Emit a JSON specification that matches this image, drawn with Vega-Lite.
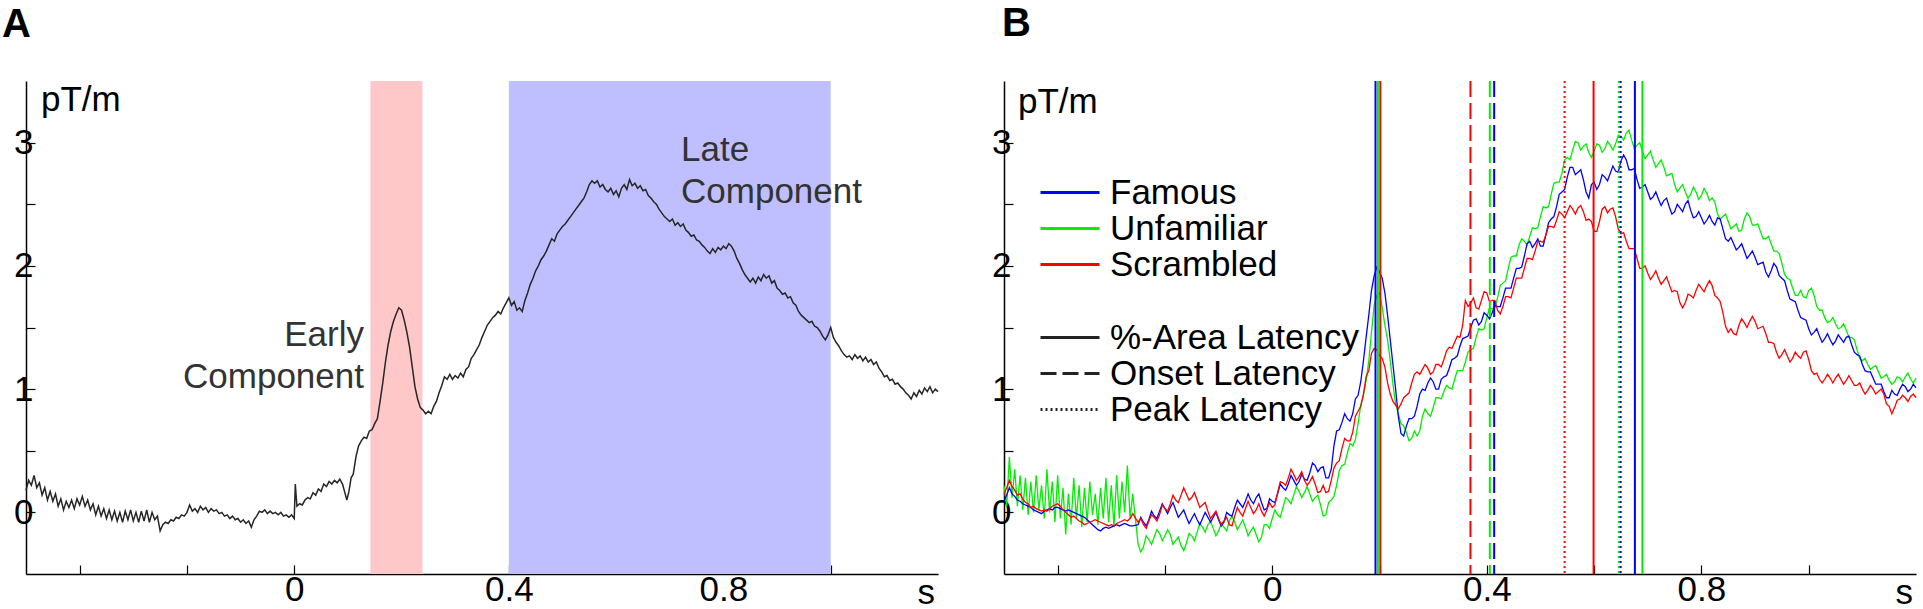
{
  "$schema": "https://vega.github.io/schema/vega-lite/v6.json",
  "description": "MEG gradiometer response: A) grand average with early and late component windows, B) three conditions with latency markers",
  "padding": {"left": 2, "top": 4, "right": 0, "bottom": 0},
  "spacing": 50,
  "hconcat": [
    {
      "width": 912,
      "height": 493,
      "title": {"text": "A", "anchor": "start", "frame": "group", "dx": -24, "offset": 36, "fontSize": 40, "fontWeight": "bold", "color": "#000"},
      "layer": [
        {
          "data": {"values": [{"a": 0.142, "b": 0.239}]},
          "mark": {"type": "rect", "color": "#FFC8C8"},
          "encoding": {"x": {"field": "a", "type": "quantitative"}, "x2": {"field": "b"}}
        },
        {
          "data": {"values": [{"a": 0.4, "b": 1.0}]},
          "mark": {"type": "rect", "color": "#BFBFFF"},
          "encoding": {"x": {"field": "a", "type": "quantitative"}, "x2": {"field": "b"}}
        },
        {
          "mark": {"type": "rule", "color": "#000", "strokeWidth": 1, "strokeDash": [2, 2]},
          "encoding": {"y": {"datum": 0, "type": "quantitative"}}
        },
        {
          "data": {"values": [
            {"t": -0.500, "v": 0.18}, {"t": -0.495, "v": 0.26}, {"t": -0.490, "v": 0.22}, {"t": -0.485, "v": 0.30}, {"t": -0.480, "v": 0.20},
            {"t": -0.475, "v": 0.24}, {"t": -0.470, "v": 0.14}, {"t": -0.465, "v": 0.20}, {"t": -0.460, "v": 0.10}, {"t": -0.455, "v": 0.17},
            {"t": -0.450, "v": 0.09}, {"t": -0.445, "v": 0.15}, {"t": -0.440, "v": 0.05}, {"t": -0.435, "v": 0.11}, {"t": -0.430, "v": 0.02},
            {"t": -0.425, "v": 0.09}, {"t": -0.420, "v": 0.04}, {"t": -0.415, "v": 0.10}, {"t": -0.410, "v": 0.03}, {"t": -0.405, "v": 0.11},
            {"t": -0.400, "v": 0.06}, {"t": -0.395, "v": 0.13}, {"t": -0.390, "v": 0.05}, {"t": -0.385, "v": 0.10}, {"t": -0.380, "v": 0.02},
            {"t": -0.375, "v": 0.07}, {"t": -0.370, "v": -0.02}, {"t": -0.365, "v": 0.05}, {"t": -0.360, "v": -0.03}, {"t": -0.355, "v": 0.03},
            {"t": -0.350, "v": -0.05}, {"t": -0.345, "v": 0.02}, {"t": -0.340, "v": -0.06}, {"t": -0.335, "v": 0.01}, {"t": -0.330, "v": -0.07},
            {"t": -0.325, "v": 0.00}, {"t": -0.320, "v": -0.08}, {"t": -0.315, "v": 0.01}, {"t": -0.310, "v": -0.06}, {"t": -0.305, "v": 0.02},
            {"t": -0.300, "v": -0.07}, {"t": -0.295, "v": 0.00}, {"t": -0.290, "v": -0.08}, {"t": -0.285, "v": 0.01}, {"t": -0.280, "v": -0.07},
            {"t": -0.275, "v": 0.02}, {"t": -0.270, "v": -0.08}, {"t": -0.265, "v": 0.00}, {"t": -0.260, "v": -0.06}, {"t": -0.255, "v": -0.03},
            {"t": -0.250, "v": -0.15}, {"t": -0.245, "v": -0.10}, {"t": -0.240, "v": -0.08}, {"t": -0.235, "v": -0.09}, {"t": -0.230, "v": -0.06},
            {"t": -0.225, "v": -0.07}, {"t": -0.220, "v": -0.04}, {"t": -0.215, "v": -0.05}, {"t": -0.210, "v": -0.02}, {"t": -0.205, "v": -0.03},
            {"t": -0.200, "v": 0.00}, {"t": -0.195, "v": 0.06}, {"t": -0.190, "v": 0.01}, {"t": -0.185, "v": 0.03}, {"t": -0.180, "v": 0.00},
            {"t": -0.175, "v": 0.05}, {"t": -0.170, "v": 0.02}, {"t": -0.165, "v": 0.04}, {"t": -0.160, "v": 0.00}, {"t": -0.155, "v": 0.03},
            {"t": -0.150, "v": 0.01}, {"t": -0.145, "v": 0.02}, {"t": -0.140, "v": -0.01}, {"t": -0.135, "v": 0.00}, {"t": -0.130, "v": -0.03},
            {"t": -0.125, "v": -0.02}, {"t": -0.120, "v": -0.05}, {"t": -0.115, "v": -0.03}, {"t": -0.110, "v": -0.06}, {"t": -0.105, "v": -0.05},
            {"t": -0.100, "v": -0.08}, {"t": -0.095, "v": -0.06}, {"t": -0.090, "v": -0.09}, {"t": -0.085, "v": -0.07}, {"t": -0.080, "v": -0.12},
            {"t": -0.075, "v": -0.06}, {"t": -0.070, "v": -0.03}, {"t": -0.065, "v": 0.01}, {"t": -0.060, "v": 0.00}, {"t": -0.055, "v": 0.02},
            {"t": -0.050, "v": -0.01}, {"t": -0.045, "v": 0.01}, {"t": -0.040, "v": -0.01}, {"t": -0.035, "v": 0.00}, {"t": -0.030, "v": -0.02},
            {"t": -0.025, "v": 0.00}, {"t": -0.020, "v": -0.03}, {"t": -0.015, "v": -0.02}, {"t": -0.010, "v": -0.04}, {"t": -0.005, "v": -0.02},
            {"t": 0.000, "v": -0.05}, {"t": 0.002, "v": 0.23}, {"t": 0.005, "v": 0.05}, {"t": 0.010, "v": 0.07}, {"t": 0.015, "v": 0.06},
            {"t": 0.020, "v": 0.10}, {"t": 0.025, "v": 0.12}, {"t": 0.030, "v": 0.11}, {"t": 0.035, "v": 0.16}, {"t": 0.040, "v": 0.14},
            {"t": 0.045, "v": 0.19}, {"t": 0.050, "v": 0.17}, {"t": 0.055, "v": 0.23}, {"t": 0.060, "v": 0.21}, {"t": 0.065, "v": 0.25},
            {"t": 0.070, "v": 0.23}, {"t": 0.075, "v": 0.26}, {"t": 0.080, "v": 0.24}, {"t": 0.085, "v": 0.27}, {"t": 0.090, "v": 0.23},
            {"t": 0.095, "v": 0.15}, {"t": 0.098, "v": 0.10}, {"t": 0.102, "v": 0.17}, {"t": 0.106, "v": 0.28}, {"t": 0.110, "v": 0.31},
            {"t": 0.115, "v": 0.45}, {"t": 0.120, "v": 0.54}, {"t": 0.125, "v": 0.58}, {"t": 0.130, "v": 0.61}, {"t": 0.135, "v": 0.60},
            {"t": 0.140, "v": 0.66}, {"t": 0.145, "v": 0.67}, {"t": 0.150, "v": 0.72}, {"t": 0.155, "v": 0.76}, {"t": 0.160, "v": 0.90},
            {"t": 0.165, "v": 1.05}, {"t": 0.170, "v": 1.22}, {"t": 0.175, "v": 1.36}, {"t": 0.180, "v": 1.47}, {"t": 0.185, "v": 1.55},
            {"t": 0.190, "v": 1.61}, {"t": 0.195, "v": 1.66}, {"t": 0.200, "v": 1.64}, {"t": 0.205, "v": 1.56}, {"t": 0.210, "v": 1.46},
            {"t": 0.215, "v": 1.34}, {"t": 0.220, "v": 1.18}, {"t": 0.225, "v": 1.02}, {"t": 0.230, "v": 0.92}, {"t": 0.235, "v": 0.85},
            {"t": 0.240, "v": 0.83}, {"t": 0.245, "v": 0.80}, {"t": 0.250, "v": 0.82}, {"t": 0.255, "v": 0.80}, {"t": 0.260, "v": 0.86},
            {"t": 0.265, "v": 0.90}, {"t": 0.270, "v": 0.97}, {"t": 0.275, "v": 1.03}, {"t": 0.280, "v": 1.10}, {"t": 0.285, "v": 1.08},
            {"t": 0.290, "v": 1.12}, {"t": 0.295, "v": 1.08}, {"t": 0.300, "v": 1.11}, {"t": 0.305, "v": 1.09}, {"t": 0.310, "v": 1.13},
            {"t": 0.315, "v": 1.10}, {"t": 0.320, "v": 1.16}, {"t": 0.325, "v": 1.18}, {"t": 0.330, "v": 1.25}, {"t": 0.335, "v": 1.28},
            {"t": 0.340, "v": 1.32}, {"t": 0.345, "v": 1.36}, {"t": 0.350, "v": 1.42}, {"t": 0.355, "v": 1.47}, {"t": 0.360, "v": 1.52},
            {"t": 0.365, "v": 1.55}, {"t": 0.370, "v": 1.58}, {"t": 0.375, "v": 1.60}, {"t": 0.380, "v": 1.63}, {"t": 0.385, "v": 1.61},
            {"t": 0.390, "v": 1.66}, {"t": 0.395, "v": 1.70}, {"t": 0.400, "v": 1.74}, {"t": 0.405, "v": 1.68}, {"t": 0.410, "v": 1.71},
            {"t": 0.415, "v": 1.64}, {"t": 0.420, "v": 1.66}, {"t": 0.425, "v": 1.63}, {"t": 0.430, "v": 1.72}, {"t": 0.435, "v": 1.78},
            {"t": 0.440, "v": 1.85}, {"t": 0.445, "v": 1.90}, {"t": 0.450, "v": 1.96}, {"t": 0.455, "v": 2.00}, {"t": 0.460, "v": 2.05},
            {"t": 0.465, "v": 2.08}, {"t": 0.470, "v": 2.12}, {"t": 0.475, "v": 2.17}, {"t": 0.480, "v": 2.22}, {"t": 0.485, "v": 2.20},
            {"t": 0.490, "v": 2.26}, {"t": 0.495, "v": 2.29}, {"t": 0.500, "v": 2.32}, {"t": 0.505, "v": 2.34}, {"t": 0.510, "v": 2.37},
            {"t": 0.515, "v": 2.40}, {"t": 0.520, "v": 2.43}, {"t": 0.525, "v": 2.46}, {"t": 0.530, "v": 2.49}, {"t": 0.535, "v": 2.52},
            {"t": 0.540, "v": 2.55}, {"t": 0.545, "v": 2.60}, {"t": 0.550, "v": 2.66}, {"t": 0.555, "v": 2.69}, {"t": 0.560, "v": 2.67},
            {"t": 0.565, "v": 2.69}, {"t": 0.570, "v": 2.64}, {"t": 0.575, "v": 2.66}, {"t": 0.580, "v": 2.62}, {"t": 0.585, "v": 2.60},
            {"t": 0.590, "v": 2.63}, {"t": 0.595, "v": 2.58}, {"t": 0.600, "v": 2.61}, {"t": 0.605, "v": 2.56}, {"t": 0.610, "v": 2.63},
            {"t": 0.615, "v": 2.66}, {"t": 0.620, "v": 2.62}, {"t": 0.625, "v": 2.70}, {"t": 0.630, "v": 2.65}, {"t": 0.635, "v": 2.67},
            {"t": 0.640, "v": 2.63}, {"t": 0.645, "v": 2.65}, {"t": 0.650, "v": 2.61}, {"t": 0.655, "v": 2.62}, {"t": 0.660, "v": 2.57},
            {"t": 0.665, "v": 2.55}, {"t": 0.670, "v": 2.52}, {"t": 0.675, "v": 2.50}, {"t": 0.680, "v": 2.46}, {"t": 0.685, "v": 2.43},
            {"t": 0.690, "v": 2.40}, {"t": 0.695, "v": 2.38}, {"t": 0.700, "v": 2.36}, {"t": 0.705, "v": 2.38}, {"t": 0.710, "v": 2.33},
            {"t": 0.715, "v": 2.35}, {"t": 0.720, "v": 2.32}, {"t": 0.725, "v": 2.34}, {"t": 0.730, "v": 2.29}, {"t": 0.735, "v": 2.27},
            {"t": 0.740, "v": 2.24}, {"t": 0.745, "v": 2.25}, {"t": 0.750, "v": 2.21}, {"t": 0.755, "v": 2.20}, {"t": 0.760, "v": 2.17},
            {"t": 0.765, "v": 2.15}, {"t": 0.770, "v": 2.12}, {"t": 0.775, "v": 2.10}, {"t": 0.780, "v": 2.14}, {"t": 0.785, "v": 2.11},
            {"t": 0.790, "v": 2.15}, {"t": 0.795, "v": 2.13}, {"t": 0.800, "v": 2.16}, {"t": 0.805, "v": 2.14}, {"t": 0.810, "v": 2.18},
            {"t": 0.815, "v": 2.16}, {"t": 0.820, "v": 2.12}, {"t": 0.825, "v": 2.06}, {"t": 0.830, "v": 2.02}, {"t": 0.835, "v": 1.97},
            {"t": 0.840, "v": 1.93}, {"t": 0.845, "v": 1.90}, {"t": 0.850, "v": 1.87}, {"t": 0.855, "v": 1.90}, {"t": 0.860, "v": 1.86},
            {"t": 0.865, "v": 1.91}, {"t": 0.870, "v": 1.88}, {"t": 0.875, "v": 1.93}, {"t": 0.880, "v": 1.90}, {"t": 0.885, "v": 1.92},
            {"t": 0.890, "v": 1.86}, {"t": 0.895, "v": 1.88}, {"t": 0.900, "v": 1.82}, {"t": 0.905, "v": 1.80}, {"t": 0.910, "v": 1.77},
            {"t": 0.915, "v": 1.78}, {"t": 0.920, "v": 1.74}, {"t": 0.925, "v": 1.75}, {"t": 0.930, "v": 1.70}, {"t": 0.935, "v": 1.68},
            {"t": 0.940, "v": 1.63}, {"t": 0.945, "v": 1.60}, {"t": 0.950, "v": 1.58}, {"t": 0.955, "v": 1.56}, {"t": 0.960, "v": 1.54},
            {"t": 0.965, "v": 1.55}, {"t": 0.970, "v": 1.51}, {"t": 0.975, "v": 1.50}, {"t": 0.980, "v": 1.47}, {"t": 0.985, "v": 1.43},
            {"t": 0.990, "v": 1.40}, {"t": 0.995, "v": 1.44}, {"t": 1.000, "v": 1.50}, {"t": 1.005, "v": 1.42}, {"t": 1.010, "v": 1.38},
            {"t": 1.015, "v": 1.35}, {"t": 1.020, "v": 1.31}, {"t": 1.025, "v": 1.28}, {"t": 1.030, "v": 1.26}, {"t": 1.035, "v": 1.27},
            {"t": 1.040, "v": 1.24}, {"t": 1.045, "v": 1.28}, {"t": 1.050, "v": 1.25}, {"t": 1.055, "v": 1.27}, {"t": 1.060, "v": 1.23},
            {"t": 1.065, "v": 1.26}, {"t": 1.070, "v": 1.22}, {"t": 1.075, "v": 1.24}, {"t": 1.080, "v": 1.20}, {"t": 1.085, "v": 1.22},
            {"t": 1.090, "v": 1.17}, {"t": 1.095, "v": 1.14}, {"t": 1.100, "v": 1.10}, {"t": 1.105, "v": 1.11}, {"t": 1.110, "v": 1.07},
            {"t": 1.115, "v": 1.08}, {"t": 1.120, "v": 1.04}, {"t": 1.125, "v": 1.05}, {"t": 1.130, "v": 1.02}, {"t": 1.135, "v": 1.00},
            {"t": 1.140, "v": 0.97}, {"t": 1.145, "v": 0.95}, {"t": 1.150, "v": 0.92}, {"t": 1.155, "v": 0.97}, {"t": 1.160, "v": 0.94},
            {"t": 1.165, "v": 0.99}, {"t": 1.170, "v": 0.96}, {"t": 1.175, "v": 1.01}, {"t": 1.180, "v": 0.98}, {"t": 1.185, "v": 1.02},
            {"t": 1.190, "v": 0.97}, {"t": 1.195, "v": 1.00}, {"t": 1.200, "v": 0.98}
          ]},
          "mark": {"type": "line", "color": "#262626", "strokeWidth": 1.5},
          "encoding": {
            "x": {
              "field": "t", "type": "quantitative",
              "scale": {"domain": [-0.5, 1.2], "nice": false, "zero": false},
              "axis": {"values": [-0.4, -0.2, 0, 0.2, 0.4, 0.6, 0.8, 1.0], "format": ".1~f", "labelExpr": "indexof([0, 0.4, 0.8], datum.value) >= 0 ? datum.label : ''"}
            },
            "y": {
              "field": "v", "type": "quantitative",
              "scale": {"domain": [-0.5, 3.5], "nice": false, "zero": false},
              "axis": {"values": [0, 0.5, 1, 1.5, 2, 2.5, 3], "format": ".1~f", "labelExpr": "datum.value % 1 == 0 ? datum.label : ''"}
            }
          }
        },
        {
          "data": {"values": [{"x": 0.13, "y": 1.35, "label": "Early\nComponent"}]},
          "mark": {"type": "text", "align": "right", "baseline": "alphabetic", "lineBreak": "\n", "lineHeight": 42, "fontSize": 35, "color": "#333"},
          "encoding": {"x": {"field": "x", "type": "quantitative"}, "y": {"field": "y", "type": "quantitative"}, "text": {"field": "label"}}
        },
        {
          "data": {"values": [{"x": 0.721, "y": 2.85, "label": "Late\nComponent"}]},
          "mark": {"type": "text", "align": "left", "baseline": "alphabetic", "lineBreak": "\n", "lineHeight": 42, "fontSize": 35, "color": "#333"},
          "encoding": {"x": {"field": "x", "type": "quantitative"}, "y": {"field": "y", "type": "quantitative"}, "text": {"field": "label"}}
        },
        {
          "data": {"values": [{"x": -0.472, "y": 3.256, "label": "pT/m"}]},
          "mark": {"type": "text", "align": "left", "baseline": "alphabetic", "fontSize": 35, "color": "#000"},
          "encoding": {"x": {"field": "x", "type": "quantitative"}, "y": {"field": "y", "type": "quantitative"}, "text": {"field": "label"}}
        },
        {
          "data": {"values": [{"x": 1.2, "y": -0.5, "label": "s"}]},
          "mark": {"type": "text", "align": "right", "baseline": "alphabetic", "dx": -3, "dy": 30, "fontSize": 35, "color": "#000"},
          "encoding": {"x": {"field": "x", "type": "quantitative"}, "y": {"field": "y", "type": "quantitative"}, "text": {"field": "label"}}
        }
      ]
    },
    {
      "width": 912,
      "height": 493,
      "title": {"text": "B", "anchor": "start", "frame": "group", "dx": -2, "offset": 36, "fontSize": 40, "fontWeight": "bold", "color": "#000"},
      "layer": [
        {
          "mark": {"type": "rule", "color": "#000", "strokeWidth": 1, "strokeDash": [2, 2]},
          "encoding": {"y": {"datum": 0, "type": "quantitative"}}
        },
        {
          "data": {"name": "traces"},
          "layer": [
            {
              "mark": {"type": "line", "strokeWidth": 1.3},
              "encoding": {
                "x": {
                  "field": "t", "type": "quantitative",
                  "scale": {"domain": [-0.5, 1.2], "nice": false, "zero": false},
                  "axis": {"values": [-0.4, -0.2, 0, 0.2, 0.4, 0.6, 0.8, 1.0], "format": ".1~f", "labelExpr": "indexof([0, 0.4, 0.8], datum.value) >= 0 ? datum.label : ''"}
                },
                "y": {
                  "field": "unfamiliar", "type": "quantitative",
                  "scale": {"domain": [-0.5, 3.5], "nice": false, "zero": false},
                  "axis": {"values": [0, 0.5, 1, 1.5, 2, 2.5, 3], "format": ".1~f", "labelExpr": "datum.value % 1 == 0 ? datum.label : ''"}
                },
                "color": {
                  "datum": "Unfamiliar",
                  "title": null,
                  "scale": {"domain": ["Famous", "Unfamiliar", "Scrambled"], "range": ["#0000FF", "#00EE00", "#FF0000"]},
                  "legend": {"title": null, "orient": "none", "legendX": 1013, "legendY": 94}
                }
              }
            },
            {
              "mark": {"type": "line", "strokeWidth": 1.3},
              "encoding": {
                "x": {"field": "t", "type": "quantitative"},
                "y": {"field": "famous", "type": "quantitative"},
                "color": {"datum": "Famous", "title": null}
              }
            },
            {
              "mark": {"type": "line", "strokeWidth": 1.3},
              "encoding": {
                "x": {"field": "t", "type": "quantitative"},
                "y": {"field": "scrambled", "type": "quantitative"},
                "color": {"datum": "Scrambled", "title": null}
              }
            }
          ]
        },
        {
          "data": {"values": [
            {"cond": "Famous", "kind": "%-Area Latency", "t": 0.1925},
            {"cond": "Unfamiliar", "kind": "%-Area Latency", "t": 0.197},
            {"cond": "Scrambled", "kind": "%-Area Latency", "t": 0.2015},
            {"cond": "Scrambled", "kind": "Onset Latency", "t": 0.3695},
            {"cond": "Unfamiliar", "kind": "Onset Latency", "t": 0.4056},
            {"cond": "Famous", "kind": "Onset Latency", "t": 0.4137},
            {"cond": "Scrambled", "kind": "Peak Latency", "t": 0.545},
            {"cond": "Scrambled", "kind": "%-Area Latency", "t": 0.599},
            {"cond": "Unfamiliar", "kind": "Peak Latency", "t": 0.646},
            {"cond": "Famous", "kind": "Peak Latency", "t": 0.6495},
            {"cond": "Famous", "kind": "%-Area Latency", "t": 0.676},
            {"cond": "Unfamiliar", "kind": "%-Area Latency", "t": 0.690}
          ]},
          "mark": {"type": "rule", "strokeWidth": 2},
          "encoding": {
            "x": {"field": "t", "type": "quantitative"},
            "color": {"field": "cond", "type": "nominal", "title": null},
            "strokeDash": {
              "field": "kind", "type": "nominal", "title": null,
              "scale": {"domain": ["%-Area Latency", "Onset Latency", "Peak Latency"], "range": [[1, 0], [16, 6], [2, 3]]},
              "legend": {"title": null, "orient": "none", "legendX": 1013, "legendY": 239, "symbolStrokeColor": "#222"}
            }
          }
        },
        {
          "data": {"values": [{"x": -0.474, "y": 3.24, "label": "pT/m"}]},
          "mark": {"type": "text", "align": "left", "baseline": "alphabetic", "fontSize": 35, "color": "#000"},
          "encoding": {"x": {"field": "x", "type": "quantitative"}, "y": {"field": "y", "type": "quantitative"}, "text": {"field": "label"}}
        },
        {
          "data": {"values": [{"x": 1.2, "y": -0.5, "label": "s"}]},
          "mark": {"type": "text", "align": "right", "baseline": "alphabetic", "dx": -3, "dy": 30, "fontSize": 35, "color": "#000"},
          "encoding": {"x": {"field": "x", "type": "quantitative"}, "y": {"field": "y", "type": "quantitative"}, "text": {"field": "label"}}
        }
      ]
    }
  ],
  "datasets": {
    "traces": [
      {"t": -0.500, "famous": 0.09, "unfamiliar": 0.22, "scrambled": 0.15},
      {"t": -0.495, "famous": 0.14, "unfamiliar": 0.05, "scrambled": 0.20},
      {"t": -0.490, "famous": 0.20, "unfamiliar": 0.45, "scrambled": 0.26},
      {"t": -0.485, "famous": 0.15, "unfamiliar": 0.12, "scrambled": 0.21},
      {"t": -0.480, "famous": 0.13, "unfamiliar": 0.35, "scrambled": 0.18},
      {"t": -0.475, "famous": 0.10, "unfamiliar": 0.05, "scrambled": 0.14},
      {"t": -0.470, "famous": 0.09, "unfamiliar": 0.30, "scrambled": 0.15},
      {"t": -0.465, "famous": 0.07, "unfamiliar": 0.02, "scrambled": 0.11},
      {"t": -0.460, "famous": 0.06, "unfamiliar": 0.28, "scrambled": 0.08},
      {"t": -0.455, "famous": 0.05, "unfamiliar": -0.02, "scrambled": 0.07},
      {"t": -0.450, "famous": 0.04, "unfamiliar": 0.25, "scrambled": 0.04},
      {"t": -0.445, "famous": 0.02, "unfamiliar": 0.00, "scrambled": 0.05},
      {"t": -0.440, "famous": 0.01, "unfamiliar": 0.30, "scrambled": 0.03},
      {"t": -0.435, "famous": 0.00, "unfamiliar": 0.02, "scrambled": 0.02},
      {"t": -0.430, "famous": -0.01, "unfamiliar": 0.22, "scrambled": 0.01},
      {"t": -0.425, "famous": 0.01, "unfamiliar": -0.05, "scrambled": 0.02},
      {"t": -0.420, "famous": 0.02, "unfamiliar": 0.35, "scrambled": 0.01},
      {"t": -0.415, "famous": 0.03, "unfamiliar": 0.00, "scrambled": 0.03},
      {"t": -0.410, "famous": 0.02, "unfamiliar": 0.25, "scrambled": 0.05},
      {"t": -0.405, "famous": 0.04, "unfamiliar": -0.08, "scrambled": 0.06},
      {"t": -0.400, "famous": 0.04, "unfamiliar": 0.30, "scrambled": 0.07},
      {"t": -0.395, "famous": 0.03, "unfamiliar": -0.05, "scrambled": 0.05},
      {"t": -0.390, "famous": 0.02, "unfamiliar": 0.20, "scrambled": 0.02},
      {"t": -0.385, "famous": 0.01, "unfamiliar": -0.18, "scrambled": 0.00},
      {"t": -0.380, "famous": 0.02, "unfamiliar": 0.15, "scrambled": -0.02},
      {"t": -0.375, "famous": 0.01, "unfamiliar": -0.10, "scrambled": -0.04},
      {"t": -0.370, "famous": 0.00, "unfamiliar": 0.28, "scrambled": -0.03},
      {"t": -0.365, "famous": -0.01, "unfamiliar": -0.05, "scrambled": -0.05},
      {"t": -0.360, "famous": -0.02, "unfamiliar": 0.22, "scrambled": -0.07},
      {"t": -0.355, "famous": -0.03, "unfamiliar": -0.12, "scrambled": -0.08},
      {"t": -0.350, "famous": -0.04, "unfamiliar": 0.20, "scrambled": -0.10},
      {"t": -0.345, "famous": -0.06, "unfamiliar": -0.08, "scrambled": -0.09},
      {"t": -0.340, "famous": -0.08, "unfamiliar": 0.25, "scrambled": -0.08},
      {"t": -0.335, "famous": -0.10, "unfamiliar": -0.02, "scrambled": -0.07},
      {"t": -0.330, "famous": -0.12, "unfamiliar": 0.15, "scrambled": -0.06},
      {"t": -0.325, "famous": -0.14, "unfamiliar": -0.10, "scrambled": -0.07},
      {"t": -0.320, "famous": -0.15, "unfamiliar": 0.20, "scrambled": -0.08},
      {"t": -0.315, "famous": -0.13, "unfamiliar": -0.05, "scrambled": -0.09},
      {"t": -0.310, "famous": -0.12, "unfamiliar": 0.28, "scrambled": -0.10},
      {"t": -0.305, "famous": -0.13, "unfamiliar": -0.08, "scrambled": -0.11},
      {"t": -0.300, "famous": -0.12, "unfamiliar": 0.22, "scrambled": -0.10},
      {"t": -0.295, "famous": -0.11, "unfamiliar": -0.12, "scrambled": -0.11},
      {"t": -0.290, "famous": -0.10, "unfamiliar": 0.30, "scrambled": -0.09},
      {"t": -0.285, "famous": -0.11, "unfamiliar": -0.05, "scrambled": -0.08},
      {"t": -0.280, "famous": -0.10, "unfamiliar": 0.25, "scrambled": -0.07},
      {"t": -0.275, "famous": -0.09, "unfamiliar": 0.00, "scrambled": -0.06},
      {"t": -0.270, "famous": -0.10, "unfamiliar": 0.38, "scrambled": -0.07},
      {"t": -0.265, "famous": -0.11, "unfamiliar": -0.05, "scrambled": -0.05},
      {"t": -0.260, "famous": -0.11, "unfamiliar": 0.15, "scrambled": -0.01},
      {"t": -0.25, "famous": -0.10, "unfamiliar": -0.26, "scrambled": -0.08},
      {"t": -0.24, "famous": -0.08, "unfamiliar": -0.28, "scrambled": -0.10},
      {"t": -0.23, "famous": -0.06, "unfamiliar": -0.22, "scrambled": -0.07},
      {"t": -0.22, "famous": -0.03, "unfamiliar": -0.20, "scrambled": -0.04},
      {"t": -0.21, "famous": 0.01, "unfamiliar": -0.17, "scrambled": -0.02},
      {"t": -0.20, "famous": 0.03, "unfamiliar": -0.19, "scrambled": 0.03},
      {"t": -0.19, "famous": 0.04, "unfamiliar": -0.18, "scrambled": 0.07},
      {"t": -0.18, "famous": 0.02, "unfamiliar": -0.23, "scrambled": 0.10},
      {"t": -0.17, "famous": -0.01, "unfamiliar": -0.27, "scrambled": 0.14},
      {"t": -0.16, "famous": -0.04, "unfamiliar": -0.25, "scrambled": 0.15},
      {"t": -0.15, "famous": -0.05, "unfamiliar": -0.19, "scrambled": 0.12},
      {"t": -0.14, "famous": -0.06, "unfamiliar": -0.16, "scrambled": 0.10},
      {"t": -0.13, "famous": -0.05, "unfamiliar": -0.12, "scrambled": 0.06},
      {"t": -0.12, "famous": -0.04, "unfamiliar": -0.10, "scrambled": 0.01},
      {"t": -0.11, "famous": -0.04, "unfamiliar": -0.13, "scrambled": -0.02},
      {"t": -0.10, "famous": -0.06, "unfamiliar": -0.15, "scrambled": -0.05},
      {"t": -0.09, "famous": -0.08, "unfamiliar": -0.12, "scrambled": -0.07},
      {"t": -0.08, "famous": -0.02, "unfamiliar": -0.07, "scrambled": -0.10},
      {"t": -0.07, "famous": 0.04, "unfamiliar": -0.08, "scrambled": -0.03},
      {"t": -0.06, "famous": 0.07, "unfamiliar": -0.10, "scrambled": 0.00},
      {"t": -0.05, "famous": 0.09, "unfamiliar": -0.12, "scrambled": 0.03},
      {"t": -0.04, "famous": 0.10, "unfamiliar": -0.15, "scrambled": 0.04},
      {"t": -0.03, "famous": 0.12, "unfamiliar": -0.18, "scrambled": 0.02},
      {"t": -0.02, "famous": 0.08, "unfamiliar": -0.20, "scrambled": 0.01},
      {"t": -0.01, "famous": 0.03, "unfamiliar": -0.10, "scrambled": 0.02},
      {"t": 0.00, "famous": 0.09, "unfamiliar": -0.05, "scrambled": 0.04},
      {"t": 0.01, "famous": 0.15, "unfamiliar": -0.02, "scrambled": 0.16},
      {"t": 0.02, "famous": 0.20, "unfamiliar": 0.04, "scrambled": 0.24},
      {"t": 0.03, "famous": 0.23, "unfamiliar": 0.10, "scrambled": 0.28},
      {"t": 0.04, "famous": 0.26, "unfamiliar": 0.14, "scrambled": 0.31},
      {"t": 0.05, "famous": 0.25, "unfamiliar": 0.17, "scrambled": 0.29},
      {"t": 0.06, "famous": 0.27, "unfamiliar": 0.16, "scrambled": 0.26},
      {"t": 0.07, "famous": 0.32, "unfamiliar": 0.15, "scrambled": 0.25},
      {"t": 0.08, "famous": 0.38, "unfamiliar": 0.12, "scrambled": 0.23},
      {"t": 0.09, "famous": 0.36, "unfamiliar": 0.06, "scrambled": 0.17},
      {"t": 0.10, "famous": 0.28, "unfamiliar": -0.02, "scrambled": 0.16},
      {"t": 0.11, "famous": 0.35, "unfamiliar": 0.10, "scrambled": 0.26},
      {"t": 0.12, "famous": 0.66, "unfamiliar": 0.22, "scrambled": 0.40},
      {"t": 0.13, "famous": 0.73, "unfamiliar": 0.38, "scrambled": 0.52},
      {"t": 0.14, "famous": 0.76, "unfamiliar": 0.48, "scrambled": 0.58},
      {"t": 0.15, "famous": 0.80, "unfamiliar": 0.54, "scrambled": 0.65},
      {"t": 0.16, "famous": 0.95, "unfamiliar": 0.72, "scrambled": 0.82},
      {"t": 0.17, "famous": 1.23, "unfamiliar": 0.95, "scrambled": 0.96},
      {"t": 0.18, "famous": 1.60, "unfamiliar": 1.23, "scrambled": 1.15},
      {"t": 0.19, "famous": 1.92, "unfamiliar": 1.68, "scrambled": 1.33},
      {"t": 0.20, "famous": 1.95, "unfamiliar": 1.78, "scrambled": 1.27},
      {"t": 0.21, "famous": 1.78, "unfamiliar": 1.52, "scrambled": 1.18},
      {"t": 0.22, "famous": 1.40, "unfamiliar": 1.23, "scrambled": 0.96},
      {"t": 0.23, "famous": 1.00, "unfamiliar": 0.88, "scrambled": 0.87},
      {"t": 0.24, "famous": 0.64, "unfamiliar": 0.72, "scrambled": 0.88},
      {"t": 0.25, "famous": 0.70, "unfamiliar": 0.65, "scrambled": 0.95},
      {"t": 0.26, "famous": 0.76, "unfamiliar": 0.60, "scrambled": 1.05},
      {"t": 0.27, "famous": 0.86, "unfamiliar": 0.62, "scrambled": 1.14},
      {"t": 0.28, "famous": 1.00, "unfamiliar": 0.78, "scrambled": 1.16},
      {"t": 0.29, "famous": 1.05, "unfamiliar": 0.80, "scrambled": 1.17},
      {"t": 0.30, "famous": 1.06, "unfamiliar": 0.85, "scrambled": 1.14},
      {"t": 0.31, "famous": 1.00, "unfamiliar": 0.93, "scrambled": 1.20},
      {"t": 0.32, "famous": 1.10, "unfamiliar": 0.98, "scrambled": 1.24},
      {"t": 0.33, "famous": 1.17, "unfamiliar": 1.01, "scrambled": 1.34},
      {"t": 0.34, "famous": 1.25, "unfamiliar": 1.08, "scrambled": 1.38},
      {"t": 0.35, "famous": 1.35, "unfamiliar": 1.15, "scrambled": 1.42},
      {"t": 0.36, "famous": 1.42, "unfamiliar": 1.22, "scrambled": 1.72},
      {"t": 0.37, "famous": 1.50, "unfamiliar": 1.32, "scrambled": 1.70},
      {"t": 0.38, "famous": 1.57, "unfamiliar": 1.42, "scrambled": 1.66},
      {"t": 0.39, "famous": 1.55, "unfamiliar": 1.48, "scrambled": 1.72},
      {"t": 0.40, "famous": 1.60, "unfamiliar": 1.58, "scrambled": 1.78},
      {"t": 0.41, "famous": 1.62, "unfamiliar": 1.65, "scrambled": 1.72},
      {"t": 0.42, "famous": 1.67, "unfamiliar": 1.74, "scrambled": 1.64},
      {"t": 0.43, "famous": 1.74, "unfamiliar": 1.86, "scrambled": 1.67},
      {"t": 0.44, "famous": 1.82, "unfamiliar": 1.98, "scrambled": 1.75},
      {"t": 0.45, "famous": 1.90, "unfamiliar": 2.08, "scrambled": 1.82},
      {"t": 0.46, "famous": 1.98, "unfamiliar": 2.17, "scrambled": 1.90},
      {"t": 0.47, "famous": 2.08, "unfamiliar": 2.20, "scrambled": 1.98},
      {"t": 0.48, "famous": 2.20, "unfamiliar": 2.24, "scrambled": 2.06},
      {"t": 0.49, "famous": 2.18, "unfamiliar": 2.30, "scrambled": 2.12},
      {"t": 0.50, "famous": 2.16, "unfamiliar": 2.40, "scrambled": 2.20},
      {"t": 0.51, "famous": 2.25, "unfamiliar": 2.47, "scrambled": 2.25},
      {"t": 0.52, "famous": 2.38, "unfamiliar": 2.58, "scrambled": 2.32},
      {"t": 0.53, "famous": 2.48, "unfamiliar": 2.68, "scrambled": 2.37},
      {"t": 0.54, "famous": 2.60, "unfamiliar": 2.75, "scrambled": 2.42},
      {"t": 0.55, "famous": 2.72, "unfamiliar": 2.88, "scrambled": 2.44},
      {"t": 0.56, "famous": 2.80, "unfamiliar": 2.94, "scrambled": 2.46},
      {"t": 0.57, "famous": 2.76, "unfamiliar": 3.00, "scrambled": 2.47},
      {"t": 0.58, "famous": 2.70, "unfamiliar": 2.97, "scrambled": 2.44},
      {"t": 0.59, "famous": 2.55, "unfamiliar": 2.92, "scrambled": 2.38},
      {"t": 0.60, "famous": 2.68, "unfamiliar": 2.93, "scrambled": 2.28},
      {"t": 0.61, "famous": 2.66, "unfamiliar": 2.98, "scrambled": 2.36},
      {"t": 0.62, "famous": 2.72, "unfamiliar": 2.95, "scrambled": 2.48},
      {"t": 0.63, "famous": 2.75, "unfamiliar": 2.98, "scrambled": 2.46},
      {"t": 0.64, "famous": 2.77, "unfamiliar": 2.99, "scrambled": 2.40},
      {"t": 0.65, "famous": 2.85, "unfamiliar": 3.05, "scrambled": 2.26},
      {"t": 0.66, "famous": 2.86, "unfamiliar": 3.08, "scrambled": 2.20},
      {"t": 0.67, "famous": 2.78, "unfamiliar": 3.02, "scrambled": 2.14},
      {"t": 0.68, "famous": 2.70, "unfamiliar": 2.98, "scrambled": 2.06},
      {"t": 0.69, "famous": 2.64, "unfamiliar": 2.93, "scrambled": 1.98},
      {"t": 0.70, "famous": 2.60, "unfamiliar": 2.90, "scrambled": 1.94},
      {"t": 0.71, "famous": 2.56, "unfamiliar": 2.86, "scrambled": 1.92},
      {"t": 0.72, "famous": 2.54, "unfamiliar": 2.83, "scrambled": 1.90},
      {"t": 0.73, "famous": 2.53, "unfamiliar": 2.80, "scrambled": 1.88},
      {"t": 0.74, "famous": 2.48, "unfamiliar": 2.74, "scrambled": 1.85},
      {"t": 0.75, "famous": 2.44, "unfamiliar": 2.66, "scrambled": 1.80},
      {"t": 0.76, "famous": 2.47, "unfamiliar": 2.63, "scrambled": 1.70},
      {"t": 0.77, "famous": 2.50, "unfamiliar": 2.60, "scrambled": 1.70},
      {"t": 0.78, "famous": 2.45, "unfamiliar": 2.58, "scrambled": 1.76},
      {"t": 0.79, "famous": 2.40, "unfamiliar": 2.60, "scrambled": 1.80},
      {"t": 0.80, "famous": 2.39, "unfamiliar": 2.57, "scrambled": 1.82},
      {"t": 0.81, "famous": 2.37, "unfamiliar": 2.59, "scrambled": 1.84},
      {"t": 0.82, "famous": 2.36, "unfamiliar": 2.55, "scrambled": 1.84},
      {"t": 0.83, "famous": 2.39, "unfamiliar": 2.42, "scrambled": 1.74},
      {"t": 0.84, "famous": 2.30, "unfamiliar": 2.40, "scrambled": 1.62},
      {"t": 0.85, "famous": 2.20, "unfamiliar": 2.36, "scrambled": 1.46},
      {"t": 0.86, "famous": 2.18, "unfamiliar": 2.32, "scrambled": 1.45},
      {"t": 0.87, "famous": 2.15, "unfamiliar": 2.28, "scrambled": 1.52},
      {"t": 0.88, "famous": 2.12, "unfamiliar": 2.38, "scrambled": 1.54},
      {"t": 0.89, "famous": 2.09, "unfamiliar": 2.40, "scrambled": 1.55},
      {"t": 0.90, "famous": 2.07, "unfamiliar": 2.33, "scrambled": 1.55},
      {"t": 0.91, "famous": 2.02, "unfamiliar": 2.28, "scrambled": 1.50},
      {"t": 0.92, "famous": 1.95, "unfamiliar": 2.22, "scrambled": 1.45},
      {"t": 0.93, "famous": 1.96, "unfamiliar": 2.18, "scrambled": 1.38},
      {"t": 0.94, "famous": 1.99, "unfamiliar": 2.12, "scrambled": 1.30},
      {"t": 0.95, "famous": 1.90, "unfamiliar": 2.02, "scrambled": 1.28},
      {"t": 0.96, "famous": 1.80, "unfamiliar": 1.90, "scrambled": 1.27},
      {"t": 0.97, "famous": 1.72, "unfamiliar": 1.82, "scrambled": 1.25},
      {"t": 0.98, "famous": 1.64, "unfamiliar": 1.76, "scrambled": 1.27},
      {"t": 0.99, "famous": 1.57, "unfamiliar": 1.75, "scrambled": 1.30},
      {"t": 1.00, "famous": 1.49, "unfamiliar": 1.80, "scrambled": 1.24},
      {"t": 1.01, "famous": 1.46, "unfamiliar": 1.76, "scrambled": 1.12},
      {"t": 1.02, "famous": 1.43, "unfamiliar": 1.64, "scrambled": 1.08},
      {"t": 1.03, "famous": 1.41, "unfamiliar": 1.58, "scrambled": 1.08},
      {"t": 1.04, "famous": 1.40, "unfamiliar": 1.55, "scrambled": 1.09},
      {"t": 1.05, "famous": 1.39, "unfamiliar": 1.53, "scrambled": 1.09},
      {"t": 1.06, "famous": 1.41, "unfamiliar": 1.50, "scrambled": 1.08},
      {"t": 1.07, "famous": 1.42, "unfamiliar": 1.48, "scrambled": 1.07},
      {"t": 1.08, "famous": 1.36, "unfamiliar": 1.42, "scrambled": 1.07},
      {"t": 1.09, "famous": 1.28, "unfamiliar": 1.32, "scrambled": 1.03},
      {"t": 1.10, "famous": 1.20, "unfamiliar": 1.23, "scrambled": 1.00},
      {"t": 1.11, "famous": 1.14, "unfamiliar": 1.20, "scrambled": 0.99},
      {"t": 1.12, "famous": 1.09, "unfamiliar": 1.18, "scrambled": 1.00},
      {"t": 1.13, "famous": 1.04, "unfamiliar": 1.14, "scrambled": 0.98},
      {"t": 1.14, "famous": 0.98, "unfamiliar": 1.10, "scrambled": 0.96},
      {"t": 1.15, "famous": 0.93, "unfamiliar": 1.07, "scrambled": 0.86},
      {"t": 1.16, "famous": 0.96, "unfamiliar": 1.06, "scrambled": 0.85},
      {"t": 1.17, "famous": 1.00, "unfamiliar": 1.09, "scrambled": 0.92},
      {"t": 1.18, "famous": 1.02, "unfamiliar": 1.10, "scrambled": 0.93},
      {"t": 1.19, "famous": 1.00, "unfamiliar": 1.08, "scrambled": 0.94},
      {"t": 1.20, "famous": 1.01, "unfamiliar": 1.09, "scrambled": 0.93},
      {"t": -0.245, "famous": -0.04, "unfamiliar": -0.32, "scrambled": -0.05},
      {"t": -0.235, "famous": -0.11, "unfamiliar": -0.19, "scrambled": -0.13},
      {"t": -0.225, "famous": 0.01, "unfamiliar": -0.26, "scrambled": -0.02},
      {"t": -0.215, "famous": -0.05, "unfamiliar": -0.14, "scrambled": -0.07},
      {"t": -0.205, "famous": 0.07, "unfamiliar": -0.23, "scrambled": 0.06},
      {"t": -0.195, "famous": -0.01, "unfamiliar": -0.14, "scrambled": 0.01},
      {"t": -0.185, "famous": 0.08, "unfamiliar": -0.26, "scrambled": 0.14},
      {"t": -0.175, "famous": -0.04, "unfamiliar": -0.20, "scrambled": 0.08},
      {"t": -0.165, "famous": 0.02, "unfamiliar": -0.31, "scrambled": 0.20},
      {"t": -0.155, "famous": -0.09, "unfamiliar": -0.17, "scrambled": 0.10},
      {"t": -0.145, "famous": -0.01, "unfamiliar": -0.23, "scrambled": 0.16},
      {"t": -0.135, "famous": -0.10, "unfamiliar": -0.09, "scrambled": 0.04},
      {"t": -0.125, "famous": 0.00, "unfamiliar": -0.16, "scrambled": 0.08},
      {"t": -0.115, "famous": -0.08, "unfamiliar": -0.07, "scrambled": -0.05},
      {"t": -0.105, "famous": 0.00, "unfamiliar": -0.19, "scrambled": 0.01},
      {"t": -0.095, "famous": -0.11, "unfamiliar": -0.09, "scrambled": -0.10},
      {"t": -0.085, "famous": 0.00, "unfamiliar": -0.15, "scrambled": -0.04},
      {"t": -0.075, "famous": -0.03, "unfamiliar": -0.03, "scrambled": -0.11},
      {"t": -0.065, "famous": 0.10, "unfamiliar": -0.14, "scrambled": 0.04},
      {"t": -0.055, "famous": 0.04, "unfamiliar": -0.06, "scrambled": -0.03},
      {"t": -0.045, "famous": 0.15, "unfamiliar": -0.19, "scrambled": 0.09},
      {"t": -0.035, "famous": 0.07, "unfamiliar": -0.12, "scrambled": -0.01},
      {"t": -0.025, "famous": 0.15, "unfamiliar": -0.24, "scrambled": 0.07},
      {"t": -0.015, "famous": 0.02, "unfamiliar": -0.10, "scrambled": -0.03},
      {"t": -0.005, "famous": 0.11, "unfamiliar": -0.13, "scrambled": 0.08},
      {"t": 0.005, "famous": 0.08, "unfamiliar": 0.02, "scrambled": 0.06},
      {"t": 0.015, "famous": 0.23, "unfamiliar": -0.04, "scrambled": 0.25},
      {"t": 0.025, "famous": 0.18, "unfamiliar": 0.12, "scrambled": 0.22},
      {"t": 0.035, "famous": 0.30, "unfamiliar": 0.07, "scrambled": 0.35},
      {"t": 0.045, "famous": 0.22, "unfamiliar": 0.21, "scrambled": 0.26},
      {"t": 0.055, "famous": 0.31, "unfamiliar": 0.12, "scrambled": 0.33},
      {"t": 0.065, "famous": 0.26, "unfamiliar": 0.21, "scrambled": 0.22},
      {"t": 0.075, "famous": 0.40, "unfamiliar": 0.09, "scrambled": 0.29},
      {"t": 0.085, "famous": 0.33, "unfamiliar": 0.14, "scrambled": 0.16},
      {"t": 0.095, "famous": 0.37, "unfamiliar": -0.03, "scrambled": 0.22},
      {"t": 0.105, "famous": 0.28, "unfamiliar": 0.08, "scrambled": 0.17},
      {"t": 0.115, "famous": 0.54, "unfamiliar": 0.13, "scrambled": 0.36},
      {"t": 0.125, "famous": 0.67, "unfamiliar": 0.34, "scrambled": 0.42},
      {"t": 0.135, "famous": 0.80, "unfamiliar": 0.39, "scrambled": 0.60},
      {"t": 0.145, "famous": 0.74, "unfamiliar": 0.56, "scrambled": 0.58},
      {"t": 0.155, "famous": 0.92, "unfamiliar": 0.59, "scrambled": 0.78},
      {"t": 0.165, "famous": 1.06, "unfamiliar": 0.87, "scrambled": 0.86},
      {"t": 0.175, "famous": 1.42, "unfamiliar": 1.07, "scrambled": 1.10},
      {"t": 0.185, "famous": 1.80, "unfamiliar": 1.46, "scrambled": 1.29},
      {"t": 0.195, "famous": 1.99, "unfamiliar": 1.76, "scrambled": 1.32},
      {"t": 0.205, "famous": 1.90, "unfamiliar": 1.66, "scrambled": 1.25},
      {"t": 0.215, "famous": 1.60, "unfamiliar": 1.40, "scrambled": 1.05},
      {"t": 0.225, "famous": 1.20, "unfamiliar": 1.04, "scrambled": 0.90},
      {"t": 0.235, "famous": 0.78, "unfamiliar": 0.80, "scrambled": 0.84},
      {"t": 0.245, "famous": 0.62, "unfamiliar": 0.70, "scrambled": 0.93},
      {"t": 0.255, "famous": 0.76, "unfamiliar": 0.58, "scrambled": 0.97},
      {"t": 0.265, "famous": 0.78, "unfamiliar": 0.66, "scrambled": 1.12},
      {"t": 0.275, "famous": 0.96, "unfamiliar": 0.66, "scrambled": 1.12},
      {"t": 0.285, "famous": 0.99, "unfamiliar": 0.84, "scrambled": 1.20},
      {"t": 0.295, "famous": 1.09, "unfamiliar": 0.78, "scrambled": 1.12},
      {"t": 0.305, "famous": 1.00, "unfamiliar": 0.93, "scrambled": 1.20},
      {"t": 0.315, "famous": 1.08, "unfamiliar": 0.92, "scrambled": 1.18},
      {"t": 0.325, "famous": 1.11, "unfamiliar": 1.03, "scrambled": 1.31},
      {"t": 0.335, "famous": 1.24, "unfamiliar": 1.00, "scrambled": 1.33},
      {"t": 0.345, "famous": 1.27, "unfamiliar": 1.15, "scrambled": 1.43},
      {"t": 0.355, "famous": 1.41, "unfamiliar": 1.15, "scrambled": 1.52},
      {"t": 0.365, "famous": 1.43, "unfamiliar": 1.30, "scrambled": 1.67},
      {"t": 0.375, "famous": 1.56, "unfamiliar": 1.33, "scrambled": 1.74},
      {"t": 0.385, "famous": 1.52, "unfamiliar": 1.49, "scrambled": 1.65},
      {"t": 0.395, "famous": 1.62, "unfamiliar": 1.49, "scrambled": 1.79},
      {"t": 0.405, "famous": 1.57, "unfamiliar": 1.66, "scrambled": 1.71},
      {"t": 0.415, "famous": 1.68, "unfamiliar": 1.66, "scrambled": 1.72},
      {"t": 0.425, "famous": 1.67, "unfamiliar": 1.84, "scrambled": 1.61},
      {"t": 0.435, "famous": 1.82, "unfamiliar": 1.88, "scrambled": 1.75},
      {"t": 0.445, "famous": 1.82, "unfamiliar": 2.07, "scrambled": 1.74},
      {"t": 0.455, "famous": 1.98, "unfamiliar": 2.08, "scrambled": 1.90},
      {"t": 0.465, "famous": 1.99, "unfamiliar": 2.22, "scrambled": 1.90},
      {"t": 0.475, "famous": 2.18, "unfamiliar": 2.17, "scrambled": 2.06},
      {"t": 0.485, "famous": 2.15, "unfamiliar": 2.31, "scrambled": 2.05},
      {"t": 0.495, "famous": 2.22, "unfamiliar": 2.31, "scrambled": 2.20},
      {"t": 0.505, "famous": 2.16, "unfamiliar": 2.48, "scrambled": 2.19},
      {"t": 0.515, "famous": 2.35, "unfamiliar": 2.48, "scrambled": 2.32},
      {"t": 0.525, "famous": 2.40, "unfamiliar": 2.67, "scrambled": 2.31},
      {"t": 0.535, "famous": 2.58, "unfamiliar": 2.68, "scrambled": 2.44},
      {"t": 0.545, "famous": 2.62, "unfamiliar": 2.86, "scrambled": 2.39},
      {"t": 0.555, "famous": 2.80, "unfamiliar": 2.86, "scrambled": 2.49},
      {"t": 0.565, "famous": 2.74, "unfamiliar": 3.01, "scrambled": 2.42},
      {"t": 0.575, "famous": 2.78, "unfamiliar": 2.94, "scrambled": 2.49},
      {"t": 0.585, "famous": 2.60, "unfamiliar": 2.99, "scrambled": 2.37},
      {"t": 0.595, "famous": 2.66, "unfamiliar": 2.88, "scrambled": 2.36},
      {"t": 0.605, "famous": 2.62, "unfamiliar": 2.99, "scrambled": 2.28},
      {"t": 0.615, "famous": 2.74, "unfamiliar": 2.92, "scrambled": 2.46},
      {"t": 0.625, "famous": 2.69, "unfamiliar": 3.01, "scrambled": 2.43},
      {"t": 0.635, "famous": 2.81, "unfamiliar": 2.94, "scrambled": 2.47},
      {"t": 0.645, "famous": 2.76, "unfamiliar": 3.06, "scrambled": 2.30},
      {"t": 0.655, "famous": 2.90, "unfamiliar": 3.02, "scrambled": 2.27},
      {"t": 0.665, "famous": 2.78, "unfamiliar": 3.10, "scrambled": 2.14},
      {"t": 0.675, "famous": 2.79, "unfamiliar": 2.95, "scrambled": 2.14},
      {"t": 0.685, "famous": 2.63, "unfamiliar": 3.00, "scrambled": 1.98},
      {"t": 0.695, "famous": 2.66, "unfamiliar": 2.87, "scrambled": 2.00},
      {"t": 0.705, "famous": 2.54, "unfamiliar": 2.93, "scrambled": 1.89},
      {"t": 0.715, "famous": 2.60, "unfamiliar": 2.80, "scrambled": 1.96},
      {"t": 0.725, "famous": 2.49, "unfamiliar": 2.86, "scrambled": 1.85},
      {"t": 0.735, "famous": 2.55, "unfamiliar": 2.73, "scrambled": 1.91},
      {"t": 0.745, "famous": 2.42, "unfamiliar": 2.75, "scrambled": 1.79},
      {"t": 0.755, "famous": 2.50, "unfamiliar": 2.60, "scrambled": 1.79},
      {"t": 0.765, "famous": 2.44, "unfamiliar": 2.66, "scrambled": 1.66},
      {"t": 0.775, "famous": 2.53, "unfamiliar": 2.55, "scrambled": 1.77},
      {"t": 0.785, "famous": 2.39, "unfamiliar": 2.64, "scrambled": 1.74},
      {"t": 0.795, "famous": 2.44, "unfamiliar": 2.54, "scrambled": 1.85},
      {"t": 0.805, "famous": 2.34, "unfamiliar": 2.63, "scrambled": 1.79},
      {"t": 0.815, "famous": 2.41, "unfamiliar": 2.53, "scrambled": 1.88},
      {"t": 0.825, "famous": 2.33, "unfamiliar": 2.52, "scrambled": 1.76},
      {"t": 0.835, "famous": 2.38, "unfamiliar": 2.38, "scrambled": 1.71},
      {"t": 0.845, "famous": 2.22, "unfamiliar": 2.42, "scrambled": 1.51},
      {"t": 0.855, "famous": 2.23, "unfamiliar": 2.30, "scrambled": 1.49},
      {"t": 0.865, "famous": 2.13, "unfamiliar": 2.34, "scrambled": 1.44},
      {"t": 0.875, "famous": 2.18, "unfamiliar": 2.29, "scrambled": 1.57},
      {"t": 0.885, "famous": 2.06, "unfamiliar": 2.43, "scrambled": 1.50},
      {"t": 0.895, "famous": 2.12, "unfamiliar": 2.33, "scrambled": 1.59},
      {"t": 0.905, "famous": 2.01, "unfamiliar": 2.34, "scrambled": 1.49},
      {"t": 0.915, "famous": 2.03, "unfamiliar": 2.22, "scrambled": 1.51},
      {"t": 0.925, "famous": 1.91, "unfamiliar": 2.24, "scrambled": 1.38},
      {"t": 0.935, "famous": 2.02, "unfamiliar": 2.12, "scrambled": 1.37},
      {"t": 0.945, "famous": 1.92, "unfamiliar": 2.10, "scrambled": 1.25},
      {"t": 0.955, "famous": 1.88, "unfamiliar": 1.93, "scrambled": 1.32},
      {"t": 0.965, "famous": 1.73, "unfamiliar": 1.89, "scrambled": 1.22},
      {"t": 0.975, "famous": 1.71, "unfamiliar": 1.76, "scrambled": 1.30},
      {"t": 0.985, "famous": 1.58, "unfamiliar": 1.80, "scrambled": 1.25},
      {"t": 0.995, "famous": 1.56, "unfamiliar": 1.74, "scrambled": 1.31},
      {"t": 1.005, "famous": 1.44, "unfamiliar": 1.82, "scrambled": 1.15},
      {"t": 1.015, "famous": 1.49, "unfamiliar": 1.67, "scrambled": 1.13},
      {"t": 1.025, "famous": 1.38, "unfamiliar": 1.64, "scrambled": 1.05},
      {"t": 1.035, "famous": 1.45, "unfamiliar": 1.54, "scrambled": 1.12},
      {"t": 1.045, "famous": 1.36, "unfamiliar": 1.58, "scrambled": 1.05},
      {"t": 1.055, "famous": 1.44, "unfamiliar": 1.49, "scrambled": 1.12},
      {"t": 1.065, "famous": 1.38, "unfamiliar": 1.53, "scrambled": 1.04},
      {"t": 1.075, "famous": 1.43, "unfamiliar": 1.42, "scrambled": 1.11},
      {"t": 1.085, "famous": 1.30, "unfamiliar": 1.40, "scrambled": 1.03},
      {"t": 1.095, "famous": 1.27, "unfamiliar": 1.25, "scrambled": 1.05},
      {"t": 1.105, "famous": 1.15, "unfamiliar": 1.25, "scrambled": 0.96},
      {"t": 1.115, "famous": 1.14, "unfamiliar": 1.16, "scrambled": 1.03},
      {"t": 1.125, "famous": 1.04, "unfamiliar": 1.19, "scrambled": 0.96},
      {"t": 1.135, "famous": 1.04, "unfamiliar": 1.09, "scrambled": 1.00},
      {"t": 1.145, "famous": 0.93, "unfamiliar": 1.12, "scrambled": 0.88},
      {"t": 1.155, "famous": 0.99, "unfamiliar": 1.04, "scrambled": 0.80},
      {"t": 1.165, "famous": 0.95, "unfamiliar": 1.10, "scrambled": 0.91},
      {"t": 1.175, "famous": 1.04, "unfamiliar": 1.06, "scrambled": 0.95},
      {"t": 1.185, "famous": 0.98, "unfamiliar": 1.13, "scrambled": 0.90},
      {"t": 1.195, "famous": 1.04, "unfamiliar": 1.05, "scrambled": 0.96}
    ]
  },
  "config": {
    "font": "Liberation Sans",
    "view": {"stroke": null},
    "axis": {
      "grid": false,
      "title": null,
      "domainColor": "#000",
      "domainWidth": 1.5,
      "tickColor": "#000",
      "tickWidth": 1.2,
      "tickSize": -9,
      "labelFontSize": 35,
      "labelColor": "#000",
      "labelFont": "Liberation Sans"
    },
    "axisX": {"labelPadding": 7},
    "axisY": {"labelPadding": 2},
    "legend": {
      "padding": 0,
      "labelFontSize": 35,
      "labelFont": "Liberation Sans",
      "labelColor": "#000",
      "labelLimit": 0,
      "labelOffset": 9,
      "symbolType": "stroke",
      "symbolSize": 3481,
      "symbolStrokeWidth": 3,
      "clipHeight": 35,
      "rowPadding": 0
    }
  }
}
